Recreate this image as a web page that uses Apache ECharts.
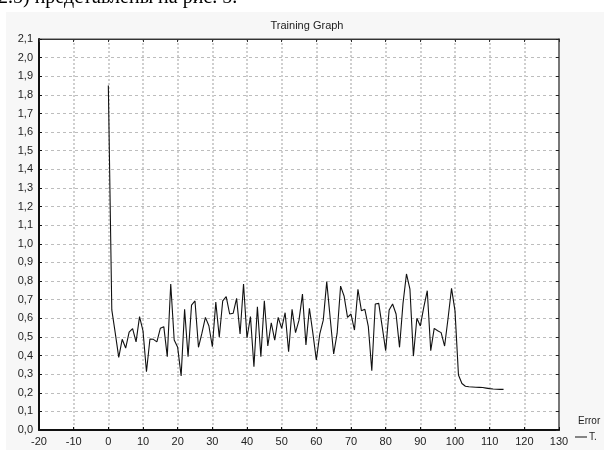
<!DOCTYPE html>
<html>
<head>
<meta charset="utf-8">
<script src="https://cdn.jsdelivr.net/npm/echarts@6/dist/echarts.min.js"></script>
<style>
html,body{margin:0;padding:0;background:#fff;}
#c{width:604px;height:450px;}
</style>
</head>
<body>
<div id="c"></div>
<script>
// Training error per epoch (epoch = position in array)
var errorValues = [
  1.85, 0.645, 0.52, 0.39, 0.487, 0.44, 0.526, 0.544, 0.473, 0.609,
  0.533, 0.313, 0.489, 0.487, 0.473, 0.546, 0.555, 0.394, 0.784, 0.483,
  0.444, 0.29, 0.648, 0.394, 0.671, 0.693, 0.444, 0.52, 0.605, 0.56,
  0.447, 0.687, 0.498, 0.694, 0.716, 0.623, 0.627, 0.707, 0.516, 0.784,
  0.494, 0.609, 0.34, 0.662, 0.394, 0.694, 0.451, 0.576, 0.483, 0.605,
  0.546, 0.63, 0.42, 0.648, 0.523, 0.59, 0.73, 0.457, 0.654, 0.52,
  0.376, 0.516, 0.59, 0.797, 0.6, 0.408, 0.52, 0.773, 0.72, 0.605,
  0.623, 0.537, 0.756, 0.641, 0.648, 0.555, 0.318, 0.677, 0.68, 0.555,
  0.426, 0.644, 0.677, 0.623, 0.444, 0.68, 0.838, 0.756, 0.397, 0.6,
  0.559, 0.66, 0.748, 0.426, 0.546, 0.533, 0.523, 0.451, 0.6, 0.761,
  0.64, 0.295, 0.25, 0.235, 0.232, 0.231, 0.23, 0.229, 0.228, 0.225,
  0.222, 0.22, 0.219, 0.218, 0.218
];
var titleText = "Training Graph";
var legendHeader = "Error";
var seriesName = "T.";
var captionText = "2.5) представлены на рис. 5.";
var xMin = -20, xMax = 130, xStep = 10;
var yMin = 0, yMax = 2.1, yStep = 0.1;

var points = errorValues.map(function (v, i) { return [i, v]; });

var chart = echarts.init(document.getElementById('c'));
var font = 'Liberation Sans, Arial, sans-serif';
chart.setOption({
  animation: false,
  backgroundColor: '#ffffff',
  graphic: [
    { type: 'rect', z: -100, shape: { x: 6, y: 12, width: 600, height: 440 }, style: { fill: '#f7f7f7' } },
    { type: 'text', z: 10, x: -2, y: 8, style: { text: captionText, font: '20px "Liberation Serif", serif', fill: '#000', verticalAlign: 'bottom', textVerticalAlign: 'bottom' } },
    { type: 'text', z: 10, x: 578, y: 421, style: { text: legendHeader, font: '10px ' + font, fill: '#222', verticalAlign: 'middle', textVerticalAlign: 'middle' } }
  ],
  title: {
    text: titleText,
    left: 302, textAlign: 'center', top: 15,
    textStyle: { fontFamily: font, fontSize: 11, fontWeight: 'normal', color: '#222' }
  },
  legend: {
    left: 570, top: 427,
    itemWidth: 12, itemHeight: 1, itemGap: 2,
    icon: 'rect',
    textStyle: { fontFamily: font, fontSize: 10, color: '#222', padding: [0, 0, 0, -3] },
    data: [seriesName]
  },
  grid: {
    left: 39, top: 39, right: 45, bottom: 20,
    show: true, backgroundColor: '#ffffff', borderColor: '#444', borderWidth: 1
  },
  xAxis: [{
    type: 'value', min: xMin, max: xMax, interval: xStep,
    axisLine: { onZero: false, lineStyle: { color: '#111', width: 2 } },
    axisTick: { inside: true, length: 3, lineStyle: { color: '#111' } },
    axisLabel: { fontFamily: font, fontSize: 11, color: '#222', margin: 6 },
    splitLine: { show: true, lineStyle: { color: '#cfcfcf', width: 2, type: [2, 2] } }
  }, {
    type: 'value', position: 'top', min: xMin, max: xMax, interval: xStep,
    axisLine: { show: true, onZero: false, lineStyle: { color: '#333', width: 1 } },
    axisTick: { show: true, inside: true, length: 3, lineStyle: { color: '#333' } },
    axisLabel: { show: false }, splitLine: { show: false }
  }],
  yAxis: [{
    type: 'value', min: yMin, max: yMax, interval: yStep,
    axisLine: { onZero: false, lineStyle: { color: '#111', width: 2 } },
    axisTick: { inside: true, length: 3, lineStyle: { color: '#111' } },
    axisLabel: {
      fontFamily: font, fontSize: 11, color: '#222', margin: 6,
      formatter: function (v) { return v.toFixed(1).replace('.', ','); }
    },
    splitLine: { show: true, lineStyle: { color: '#bdbdbd', width: 1, type: [3, 3] } }
  }, {
    type: 'value', position: 'right', min: yMin, max: yMax, interval: yStep,
    axisLine: { show: true, onZero: false, lineStyle: { color: '#777', width: 2 } },
    axisTick: { show: true, inside: true, length: 3, lineStyle: { color: '#222' } },
    axisLabel: { show: false }, splitLine: { show: false }
  }],
  series: [{
    name: seriesName,
    type: 'line',
    data: points,
    showSymbol: false,
    symbol: 'none',
    lineStyle: { color: '#111', width: 1.1 },
    itemStyle: { color: '#111' }
  }]
});
</script>
</body>
</html>
